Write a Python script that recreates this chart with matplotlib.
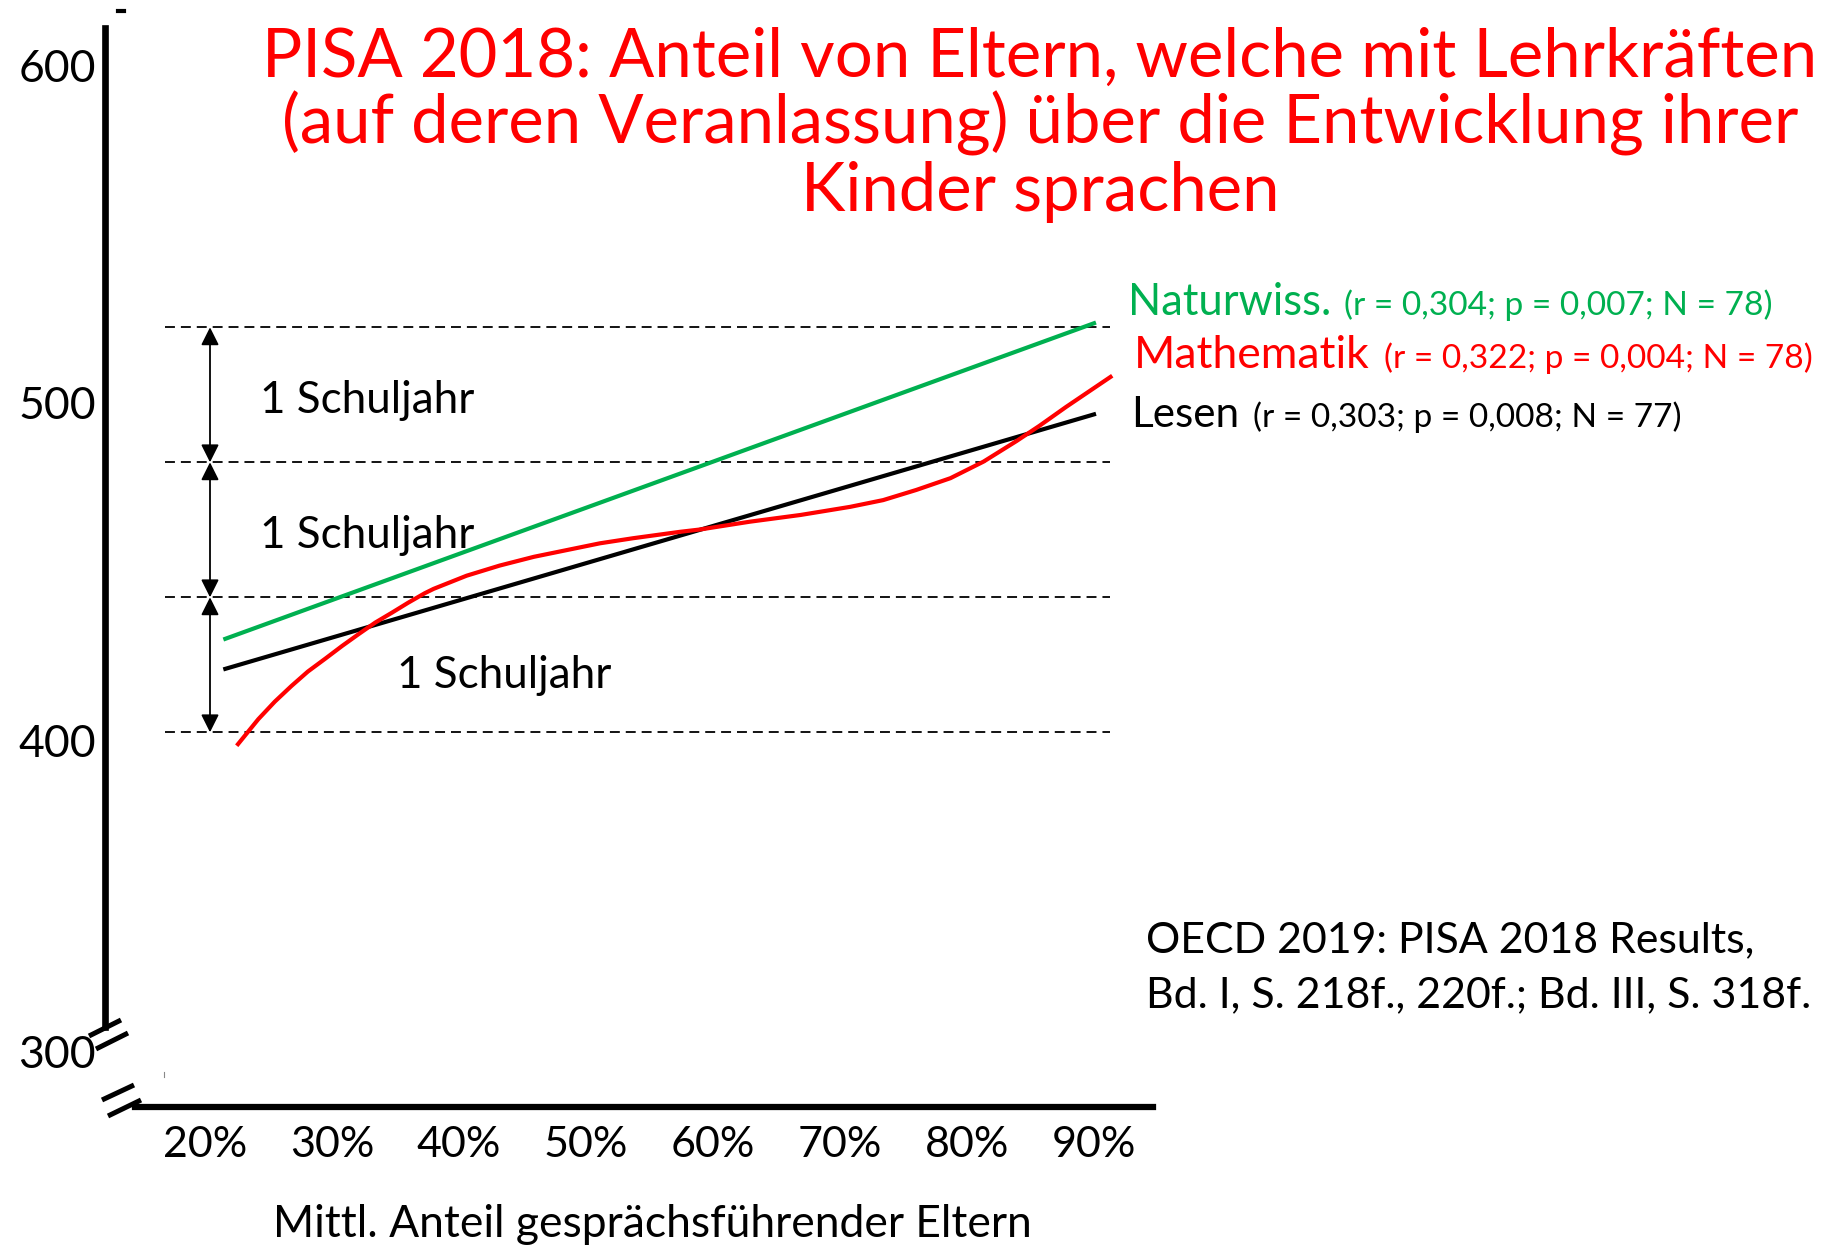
import matplotlib.pyplot as plt
from matplotlib.transforms import offset_copy

plt.rcParams['font.family'] = ['Lato', 'DejaVu Sans']

# ---- data ----
x_ticks = [20, 30, 40, 50, 60, 70, 80, 90]
x_tick_labels = ['20%', '30%', '40%', '50%', '60%', '70%', '80%', '90%']
y_ticks = [300, 400, 500, 600]
schuljahr_levels = [400, 440, 480, 520]

nat_x = [21.6, 90.0]
nat_y = [427.7, 521.2]
les_x = [21.6, 90.0]
les_y = [418.8, 494.2]
mat_x = [22.6, 23.4, 24.2, 25.5, 26.8, 28.1, 29.5, 30.8, 32.1, 33.4, 34.7, 36.0,
         37.3, 38.0, 40.6, 43.2, 45.9, 48.5, 51.1, 53.7, 57.4, 59.0, 62.9, 66.9,
         70.8, 73.4, 76.0, 78.7, 81.3, 83.9, 85.7, 87.8, 91.3]
mat_y = [396.5, 400.2, 403.9, 409.1, 413.7, 418.0, 421.9, 425.6, 429.1, 432.5, 435.4, 438.4,
         441.2, 442.5, 446.4, 449.4, 452.0, 454.0, 456.0, 457.5, 459.4, 460.1, 462.4, 464.4,
         466.8, 468.8, 471.8, 475.3, 480.2, 486.3, 490.8, 496.4, 505.3]

names = ['Naturwiss.', 'Mathematik', 'Lesen']
stats = ['(r = 0,304; p = 0,007; N = 78)',
         '(r = 0,322; p = 0,004; N = 78)',
         '(r = 0,303; p = 0,008; N = 77)']
colors = ['#00B050', '#FF0000', 'black']

title_lines = ['PISA 2018: Anteil von Eltern, welche mit Lehrkräften',
               '(auf deren Veranlassung) über die Entwicklung ihrer',
               'Kinder sprachen']
source_lines = ['OECD 2019: PISA 2018 Results,',
                'Bd. I, S. 218f., 220f.; Bd. III, S. 318f.']
x_label = 'Mittl. Anteil gesprächsführender Eltern'

# ---- layout: one axes over the whole figure, pixel helpers ----
W, H = 1828, 1245
PX, PY = 12.7, 3.375          # pixels per % and per score point
X0, Y0 = 205, 732.3           # pixel position of 20% / 400


def px2x(p):
    return 20 + (p - X0) / PX


def px2y(p):
    return 400 - (p - Y0) / PY


fig = plt.figure(figsize=(W / 100, H / 100), dpi=100)
ax = fig.add_axes([0, 0, 1, 1])
ax.set_xlim(px2x(0), px2x(W))
ax.set_ylim(px2y(H), px2y(0))
renderer = fig.canvas.get_renderer()


def fit(t, width):
    w = t.get_window_extent(renderer).width
    t.set_fontsize(t.get_fontsize() * width / w)
    return t.get_fontsize()


# axes lines
ax.spines['top'].set_visible(False)
ax.spines['right'].set_visible(False)
ax.spines['left'].set_position(('data', px2x(105)))
ax.spines['left'].set_bounds(px2y(1027), px2y(28))
ax.spines['left'].set_linewidth(4.8)
ax.spines['bottom'].set_position(('data', px2y(1107)))
ax.spines['bottom'].set_bounds(px2x(135), px2x(1153))
ax.spines['bottom'].set_linewidth(4.5)
ax.set_xticks(x_ticks, x_tick_labels, fontsize=31)
ax.tick_params(axis='x', length=0, pad=14)
ax.set_yticks([])

# axis break marks
breaks = [((89, 1036), (121, 1020)), ((96, 1049), (128, 1033)),
          ((102, 1100), (134, 1085)), ((108, 1116), (141, 1100))]
for (a, b) in breaks:
    ax.plot([px2x(a[0]), px2x(b[0])], [px2y(a[1]), px2y(b[1])],
            color='black', lw=3.6, solid_capstyle='butt')
ax.plot([px2x(118), px2x(124)], [px2y(11), px2y(11)], color='black', lw=3)
ax.plot([px2x(164), px2x(164)], [px2y(1072), px2y(1077)], color='#888888', lw=0.8)

# y labels
for v in y_ticks:
    yv = v if v > 300 else px2y(1043)
    ax.text(px2x(96), yv, str(v), ha='right', va='center', fontsize=32,
            transform=offset_copy(ax.transData, fig=fig, y=-12, units='dots'))

# school-year bands
ax.hlines(schuljahr_levels, px2x(165), px2x(1110), colors='black', lw=1.3,
          linestyles=(0, (5.5, 3.3)))
for lo, hi in zip(schuljahr_levels[:-1], schuljahr_levels[1:]):
    ax.annotate('', xy=(px2x(210), hi), xytext=(px2x(210), lo),
                arrowprops=dict(arrowstyle='<|-|>', color='black', lw=1.3,
                                mutation_scale=27, shrinkA=0, shrinkB=0))
sj_pos = [(260, 413), (260, 548), (397, 688)]
for (px, py) in sj_pos:
    t = ax.text(px2x(px), px2y(py), '1 Schuljahr', va='baseline', fontsize=30)
    fit(t, 214)

# regression lines
ax.plot(nat_x, nat_y, color=colors[0], lw=3)
ax.plot(les_x, les_y, color=colors[2], lw=3)
ax.plot(mat_x, mat_y, color=colors[1], lw=3)

# legend texts
name_pos = [(1128, 315, 203), (1134, 368, 236), (1131, 427, 108)]
stat_x = [1344, 1384, 1253]
for i in range(3):
    px, py, w = name_pos[i]
    t = ax.text(px2x(px), px2y(py), names[i], color=colors[i], va='baseline', fontsize=28)
    fit(t, w)
    t = ax.text(px2x(stat_x[i]), px2y(py), stats[i], color=colors[i], va='baseline', fontsize=22)
    fit(t, 427)

# title
tt = [ax.text(px2x(1040), px2y(77 + 67 * i), line, color='#FF0000', ha='center',
              va='baseline', fontsize=44) for i, line in enumerate(title_lines)]
fs = fit(tt[2], 479)
for t in tt:
    t.set_fontsize(fs)

# source
st = [ax.text(px2x(1146), px2y(952 + 55 * i), line, va='baseline', fontsize=28)
      for i, line in enumerate(source_lines)]
fs = fit(st[1], 666)
st[0].set_fontsize(fs)

# x label
t = ax.text(px2x(652), px2y(1237), x_label, ha='center', va='baseline', fontsize=30)
fit(t, 756)

fig.savefig('out.png', dpi=100, facecolor='white')
